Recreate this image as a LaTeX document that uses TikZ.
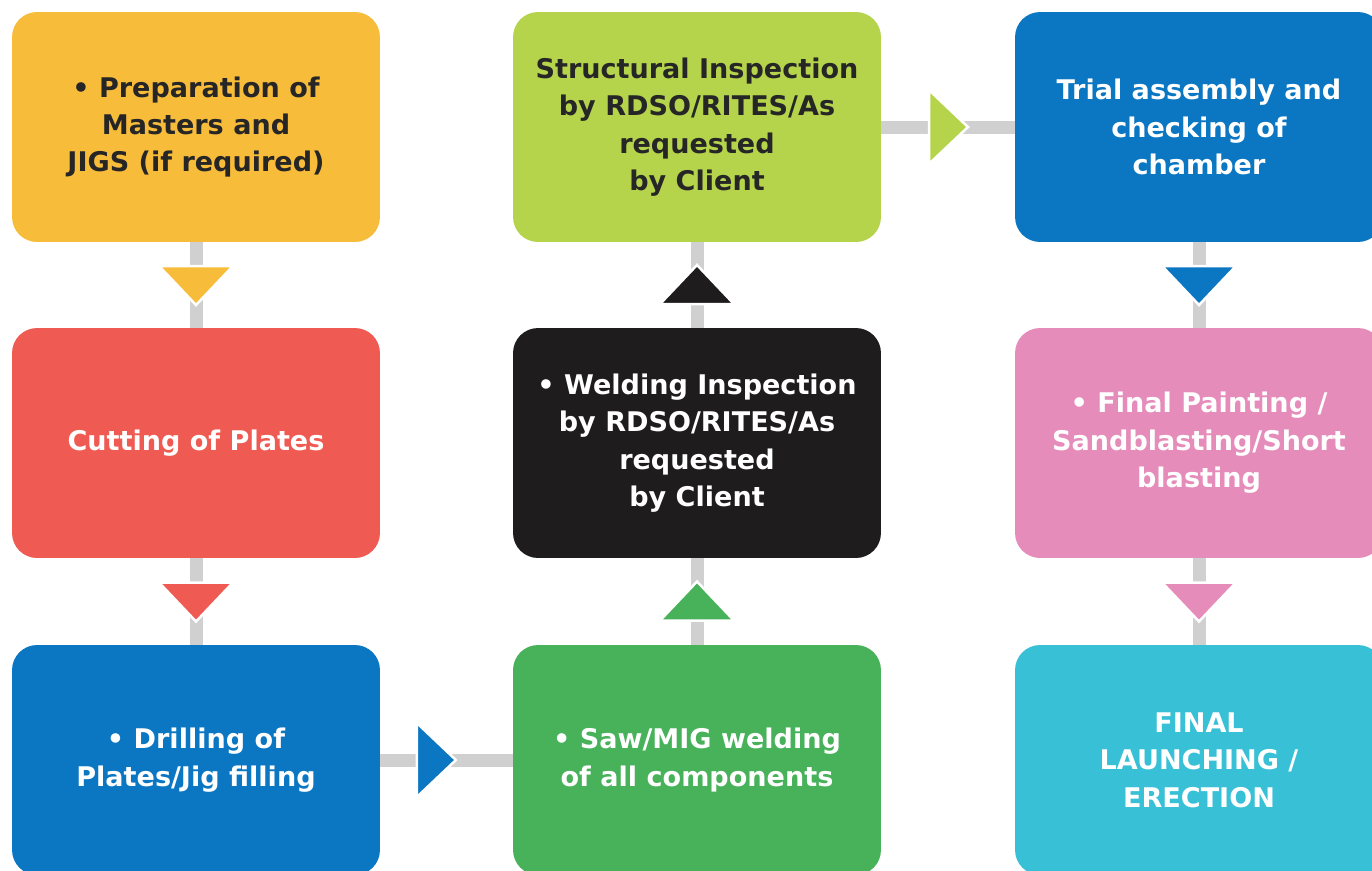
\documentclass[tikz,border=0pt]{standalone}
\usepackage{fontspec}
\setmainfont{DejaVu Sans}

\definecolor{stageYellow}{HTML}{F8BC3B}
\definecolor{stageRed}{HTML}{EF5B53}
\definecolor{stageBlue}{HTML}{0B76C2}
\definecolor{stageGreen}{HTML}{47B25A}
\definecolor{stageLime}{HTML}{B5D44B}
\definecolor{stageBlack}{HTML}{1E1C1D}
\definecolor{stagePink}{HTML}{E68CBA}
\definecolor{stageCyan}{HTML}{38C0D7}
\definecolor{stageText}{HTML}{262626}
\definecolor{linkGray}{HTML}{D0D0D0}

\begin{document}
\begin{tikzpicture}[x=0.02cm,y=-0.02cm,
	stage/.style={rounded corners=0.5cm, minimum width=7.36cm, minimum height=4.6cm,
		align=center, inner sep=0pt, text=white,
		font=\bfseries\fontsize{15.4}{21.3}\selectfont},
	dark/.style={text=stageText},
	link/.style={draw=linkGray, line width=0.26cm},
	tip/.pic={\fill[#1, draw=white, line width=0.05cm] (-19,-37) -- (20,0) -- (-19,37) -- cycle;}]
	\fill [white] (0,0) rectangle (1372,870);
	\useasboundingbox (0,0) rectangle (1372,870);
	% stages
	\node [stage, dark, fill=stageYellow] (prep) at (196,127) {• Preparation of\\Masters and\\JIGS (if required)};
	\node [stage, fill=stageRed] (cut) at (196,443) {Cutting of Plates};
	\node [stage, fill=stageBlue] (drill) at (196,760) {• Drilling of\\Plates/Jig filling};
	\node [stage, fill=stageGreen] (saw) at (697,760) {• Saw/MIG welding\\of all components};
	\node [stage, fill=stageBlack] (weld) at (697,443) {• Welding Inspection\\by RDSO/RITES/As\\requested\\by Client};
	\node [stage, dark, fill=stageLime] (struct) at (697,127) {Structural Inspection\\by RDSO/RITES/As\\requested\\by Client};
	\node [stage, fill=stageBlue] (trial) at (1199,127) {Trial assembly and\\checking of\\chamber};
	\node [stage, fill=stagePink] (paint) at (1199,443) {• Final Painting /\\Sandblasting/Short\\blasting};
	\node [stage, fill=stageCyan] (final) at (1199,760) {FINAL\\LAUNCHING /\\ERECTION};
	% links
	\draw [link] (prep) -- (cut) pic [pos=0.5, sloped, allow upside down] {tip=stageYellow};
	\draw [link] (cut) -- (drill) pic [pos=0.5, sloped, allow upside down] {tip=stageRed};
	\draw [link] (drill) -- (saw) pic [pos=0.42, sloped, allow upside down] {tip=stageBlue};
	\draw [link] (saw) -- (weld) pic [pos=0.5, sloped, allow upside down] {tip=stageGreen};
	\draw [link] (weld) -- (struct) pic [pos=0.5, sloped, allow upside down] {tip=stageBlack};
	\draw [link] (struct) -- (trial) pic [pos=0.5, sloped, allow upside down] {tip=stageLime};
	\draw [link] (trial) -- (paint) pic [pos=0.5, sloped, allow upside down] {tip=stageBlue};
	\draw [link] (paint) -- (final) pic [pos=0.5, sloped, allow upside down] {tip=stagePink};
\end{tikzpicture}
\end{document}
